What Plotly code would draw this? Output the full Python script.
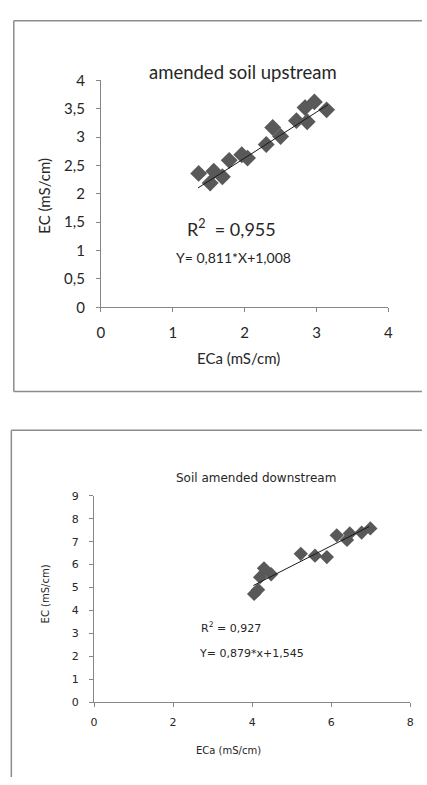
import plotly.graph_objects as go

# ---- Data: amended soil upstream ----
up_eca = [1.36, 1.52, 1.57, 1.69, 1.785, 1.96, 2.04, 2.30, 2.39, 2.50, 2.72, 2.84, 2.87, 2.97, 3.14]
up_ec = [2.36, 2.19, 2.40, 2.30, 2.59, 2.69, 2.63, 2.87, 3.17, 3.01, 3.29, 3.52, 3.27, 3.62, 3.48]
up_slope, up_intercept = 0.811, 1.008
up_fit_x = [1.35, 3.16]

# ---- Data: soil amended downstream ----
dn_eca = [4.05, 4.15, 4.20, 4.30, 4.48, 5.23, 5.59, 5.89, 6.14, 6.40, 6.47, 6.77, 6.99]
dn_ec = [4.72, 4.90, 5.45, 5.84, 5.58, 6.47, 6.39, 6.33, 7.28, 7.08, 7.36, 7.40, 7.58]
dn_slope, dn_intercept = 0.879, 1.545
dn_fit_x = [4.03, 6.96]

up_xticks = [0, 1, 2, 3, 4]
up_yticks = [0, 0.5, 1, 1.5, 2, 2.5, 3, 3.5, 4]
dn_xticks = [0, 2, 4, 6, 8]
dn_yticks = [0, 1, 2, 3, 4, 5, 6, 7, 8, 9]

W, H = 427, 785
def px(x):
    return x / W
def py(y):
    return 1 - y / H

MARKER = "#595959"
AXIS = "#868686"
TXT = "#262626"
BORDER = "#8c8c8c"

fig = go.Figure()

fig.add_trace(go.Scatter(x=up_eca, y=up_ec, mode="markers", xaxis="x", yaxis="y",
                         marker=dict(symbol="diamond", size=13, color=MARKER), showlegend=False))
fig.add_trace(go.Scatter(x=up_fit_x, y=[up_slope * v + up_intercept for v in up_fit_x], mode="lines",
                         xaxis="x", yaxis="y", line=dict(color="#1a1a1a", width=1), showlegend=False))
fig.add_trace(go.Scatter(x=dn_eca, y=dn_ec, mode="markers", xaxis="x2", yaxis="y2",
                         marker=dict(symbol="diamond", size=11, color=MARKER), showlegend=False))
fig.add_trace(go.Scatter(x=dn_fit_x, y=[dn_slope * v + dn_intercept for v in dn_fit_x], mode="lines",
                         xaxis="x2", yaxis="y2", line=dict(color="#1a1a1a", width=1), showlegend=False))

top_font = "Lato, Open Sans, sans-serif"
bot_font = "DejaVu Sans, Verdana, sans-serif"

axis_common = dict(showgrid=False, zeroline=False, showline=True, linecolor=AXIS, linewidth=1,
                   ticks="outside", ticklen=4, tickcolor=AXIS, fixedrange=True)

fig.update_layout(
    width=W, height=H, margin=dict(l=0, r=0, t=0, b=0),
    paper_bgcolor="white", plot_bgcolor="white",
    separators=", ",
    xaxis=dict(domain=[px(99), px(392.7)], range=[0, 4], tickvals=up_xticks, anchor="y",
               ticklabelstandoff=8,
               tickfont=dict(family=top_font, size=15, color=TXT), **axis_common),
    yaxis=dict(domain=[py(304.3), py(72)], range=[0, 4], tickvals=up_yticks, anchor="x",
               tickformat=".1~f", ticklabelstandoff=8,
               tickfont=dict(family=top_font, size=15, color=TXT), **axis_common),
    xaxis2=dict(domain=[px(92), px(415)], range=[0, 8], tickvals=dn_xticks, anchor="y2",
                ticklabelstandoff=6,
                tickfont=dict(family=bot_font, size=11, color=TXT), **axis_common),
    yaxis2=dict(domain=[py(708.3), py(497.3)], range=[0, 9], tickvals=dn_yticks, anchor="x2",
                ticklabelstandoff=8,
                tickfont=dict(family=bot_font, size=11, color=TXT), **axis_common),
)

annos = [
    dict(text="amended soil upstream", x=px(244), y=py(63), font=dict(family=top_font, size=18.5, color=TXT)),
    dict(text="ECa (mS/cm)", x=px(240), y=py(356), font=dict(family=top_font, size=15, color=TXT)),
    dict(text="EC (mS/cm)", x=px(40), y=py(190), textangle=-90, font=dict(family=top_font, size=15, color=TXT)),
    dict(text="R<sup>2</sup>  = 0,955", x=px(232), y=py(223), font=dict(family=top_font, size=18, color=TXT)),
    dict(text="Y= 0,811*X+1,008", x=px(234), y=py(253), font=dict(family=top_font, size=14, color=TXT)),
    dict(text="Soil amended downstream", x=px(257), y=py(479), font=dict(family=bot_font, size=12, color=TXT)),
    dict(text="ECa (mS/cm)", x=px(229), y=py(758), font=dict(family=bot_font, size=10, color=TXT)),
    dict(text="EC (mS/cm)", x=px(42), y=py(598), textangle=-90, font=dict(family=bot_font, size=10, color=TXT)),
    dict(text="R<sup>2</sup> = 0,927", x=px(232), y=py(632), font=dict(family=bot_font, size=11, color=TXT)),
    dict(text="Y= 0,879*x+1,545", x=px(253), y=py(659), font=dict(family=bot_font, size=11, color=TXT)),
]
for a in annos:
    fig.add_annotation(xref="paper", yref="paper", showarrow=False, xanchor="center", yanchor="middle", **a)

# chart borders (only the visible edges, kept inside the page)
border = dict(type="line", xref="paper", yref="paper", line=dict(color=BORDER, width=1.5))
fig.add_shape(x0=px(10), x1=1, y0=py(11), y1=py(11), **border)
fig.add_shape(x0=px(10), x1=px(10), y0=py(11), y1=py(390.5), **border)
fig.add_shape(x0=px(10), x1=1, y0=py(390.5), y1=py(390.5), **border)
fig.add_shape(x0=px(7.5), x1=1, y0=py(430), y1=py(430), **border)
fig.add_shape(x0=px(7.5), x1=px(7.5), y0=py(430), y1=0, **border)

fig.write_html(
    "out.html",
    config={"displayModeBar": False},
    post_script="document.body.style.margin='0';document.body.style.overflow='hidden';"
                "document.documentElement.style.overflow='hidden';",
)
